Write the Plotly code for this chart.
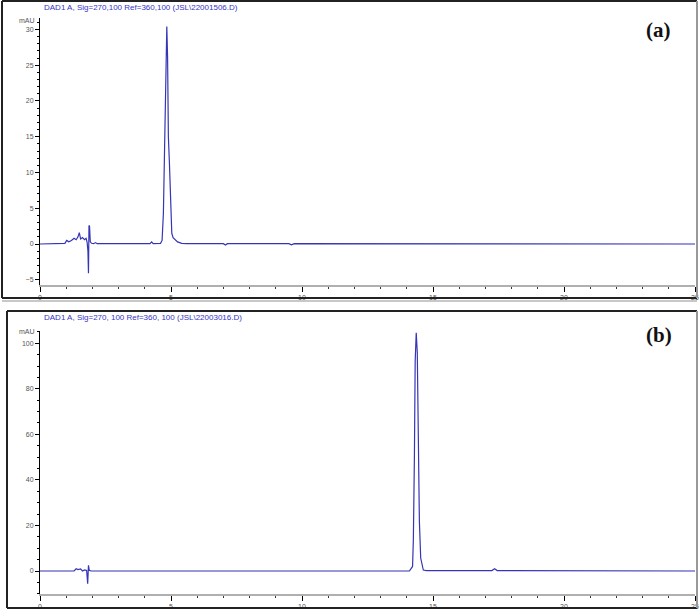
import plotly.graph_objects as go

# panel (a) chromatogram (min, mAU)
time_a = [0, 0.85, 0.95, 1.02, 1.1, 1.2, 1.3, 1.38, 1.45, 1.5, 1.55, 1.62, 1.7, 1.76,
          1.8, 1.83, 1.85, 1.87, 1.89, 1.92, 1.97, 2.05, 2.12, 2.18, 2.3, 4.2, 4.26,
          4.32, 4.6, 4.66, 4.71, 4.75, 4.79, 4.82, 4.84, 4.87, 4.9, 4.94, 4.98, 5.03,
          5.08, 5.15, 5.25, 5.41, 5.6, 7.0, 7.08, 7.15, 9.5, 9.6, 9.7, 25]
signal_a = [0, 0, 0.1, 0.5, 0.3, 0.5, 0.8, 0.6, 1.0, 1.6, 0.7, 0.9, 0.6, 0.8,
            0.2, -1.0, -4.1, 2.6, 2.5, 0.3, 0.1, 0.05, 0.2, 0.05, 0.05, 0.05, 0.3,
            0.05, 0.1, 0.5, 4.3, 12.2, 20, 28, 30.4, 26, 15, 11.3, 6.2, 1.5,
            0.9, 0.6, 0.3, 0.1, 0.05, 0.05, -0.15, 0.05, 0.05, -0.1, 0.05, 0.0]

# panel (b)
time_b = [0, 1.3, 1.38, 1.45, 1.55, 1.62, 1.7, 1.78, 1.82, 1.85, 1.88, 1.95, 2.05,
          14.1, 14.22, 14.25, 14.29, 14.32, 14.36, 14.4, 14.44, 14.48, 14.53, 14.63,
          14.75, 17.25, 17.35, 17.45, 25]
signal_b = [0, 0, 1.0, 0.6, 0.9, 0.0, 0.5, 0.2, -5.6, 2.5, 0.3, 0, 0,
            0, 2.0, 13.6, 50, 92, 104.6, 96, 59, 22, 5.7, 0.4,
            0.2, 0.2, 1.0, 0.2, 0.0]

x_ticks = [0, 5, 10, 15, 20, 25]
y_ticks_a = [-5, 0, 5, 10, 15, 20, 25, 30]
y_ticks_b = [0, 20, 40, 60, 80, 100]

header_a = "DAD1 A, Sig=270,100 Ref=360,100 (JSL\\22001506.D)"
header_b = "DAD1 A, Sig=270, 100 Ref=360, 100 (JSL\\22003016.D)"

W, H = 700, 613
line_col = "#3535b5"


def px(x):
    return x / W


def py(y):
    return 1 - y / H


fig = go.Figure()
fig.add_trace(go.Scatter(x=time_a, y=signal_a, mode="lines", xaxis="x", yaxis="y",
                         line=dict(color=line_col, width=1.2), showlegend=False))
fig.add_trace(go.Scatter(x=time_b, y=signal_b, mode="lines", xaxis="x2", yaxis="y2",
                         line=dict(color=line_col, width=1.2), showlegend=False))

tick_font = dict(family="Arial", size=7, color="#555")
xcommon = dict(range=[0, 25], domain=[px(40), px(695)], tickvals=x_ticks,
               showline=True, linecolor="#b0b0b0", linewidth=2,
               ticks="outside", ticklen=5, tickcolor="#000", tickwidth=1,
               minor=dict(dtick=1, ticks="outside", ticklen=2, tickcolor="#333"),
               showgrid=False, zeroline=False, tickfont=tick_font, automargin=False)
ycommon = dict(showline=True, linecolor="#000", linewidth=1,
               ticks="outside", ticklen=4, tickcolor="#000",
               showgrid=False, zeroline=False, tickfont=tick_font, automargin=False)

fig.update_layout(
    width=W, height=H, autosize=False,
    margin=dict(l=0, r=0, t=0, b=0),
    template="none",
    paper_bgcolor="white", plot_bgcolor="white",
    xaxis=dict(anchor="y", **xcommon),
    xaxis2=dict(anchor="y2", **xcommon),
    yaxis=dict(anchor="x", domain=[py(285), py(18)], range=[-5.73, 31.6],
               tickvals=y_ticks_a,
               minor=dict(dtick=1, ticks="outside", ticklen=2, tickcolor="#000"),
               **ycommon),
    yaxis2=dict(anchor="x2", domain=[py(594), py(331)], range=[-10.1, 105.4],
                tickvals=y_ticks_b,
                minor=dict(dtick=5, ticks="outside", ticklen=2, tickcolor="#000"),
                **ycommon),
)

# frames around each panel
frames = [
    (2, 1, 697, 298),
    (7, 311, 697, 608),
]
for x0, y0, x1, y1 in frames:
    fig.add_shape(type="line", xref="paper", yref="paper", x0=px(x0), x1=px(x1),
                  y0=py(y0), y1=py(y0), line=dict(color="#222", width=2))
    fig.add_shape(type="line", xref="paper", yref="paper", x0=px(x0), x1=px(x0),
                  y0=py(y0), y1=py(y1), line=dict(color="#222", width=2))
    fig.add_shape(type="line", xref="paper", yref="paper", x0=px(x0), x1=px(x1),
                  y0=py(y1), y1=py(y1), line=dict(color="#222", width=2))
    fig.add_shape(type="line", xref="paper", yref="paper", x0=px(x1), x1=px(x1),
                  y0=py(y0), y1=py(y1), line=dict(color="#999", width=2))
fig.add_shape(type="line", xref="paper", yref="paper", x0=px(2), x1=px(697),
              y0=py(301), y1=py(301), line=dict(color="#c8c8c8", width=2))

notes = [
    (42, 7, header_a, dict(family="Arial", size=8, color="#3434c8"), "left"),
    (42, 317, header_b, dict(family="Arial", size=8, color="#3434c8"), "left"),
    (27, 20, "mAU", dict(family="Arial", size=7, color="#555"), "center"),
    (27, 331, "mAU", dict(family="Arial", size=7, color="#555"), "center"),
    (658, 30, "<b>(a)</b>", dict(family="Liberation Serif", size=21, color="#111"), "center"),
    (659, 335, "<b>(b)</b>", dict(family="Liberation Serif", size=21, color="#111"), "center"),
]
for x, y, text, font, xa in notes:
    fig.add_annotation(x=px(x), y=py(y), xref="paper", yref="paper", text=text,
                       showarrow=False, font=font, xanchor=xa, yanchor="middle")

# page body has a default margin; drop it so the figure fills the window
fig.write_html("out.html", config={"displayModeBar": False},
               post_script="document.body.style.margin='0px';"
               "document.body.style.overflow='hidden';")
